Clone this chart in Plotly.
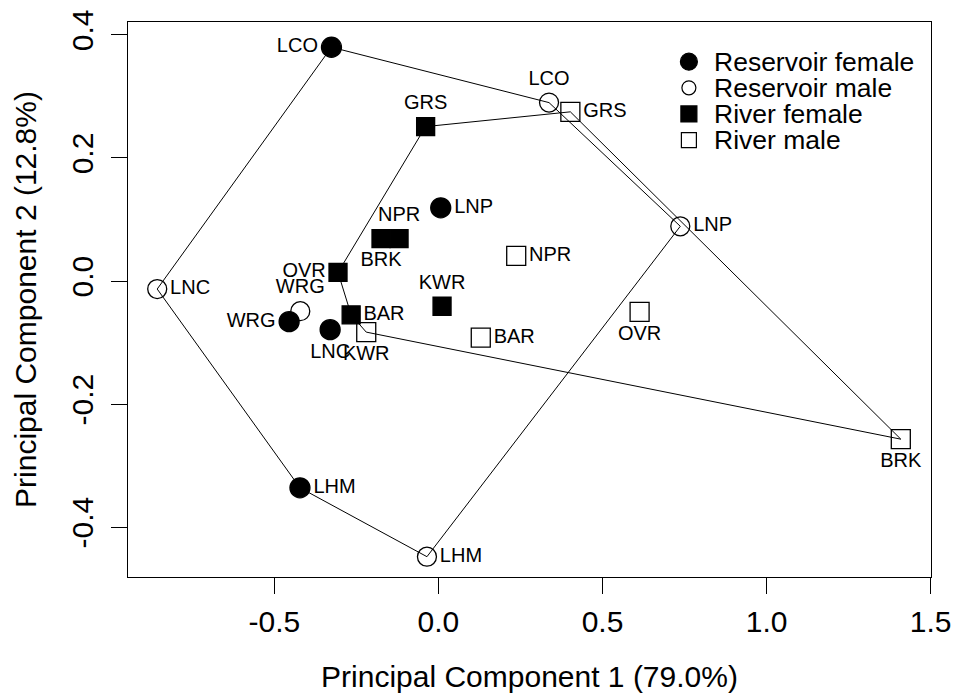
import plotly.graph_objects as go

# ---------------- data ----------------
res_f_labels = ["LCO", "LNP", "WRG", "LNC", "LHM"]
res_f_x = [-0.326, 0.007, -0.455, -0.330, -0.422]
res_f_y = [0.380, 0.119, -0.066, -0.079, -0.336]
res_f_pos = ["middle left", "middle right", "middle left", "bottom center", "middle right"]

res_m_labels = ["LCO", "LNP", "WRG", "LNC", "LHM"]
res_m_x = [0.337, 0.737, -0.421, -0.857, -0.035]
res_m_y = [0.290, 0.089, -0.049, -0.013, -0.448]
res_m_pos = ["top center", "middle right", "top center", "middle right", "middle right"]

riv_f_labels = ["GRS", "NPR", "BRK", "OVR", "BAR", "KWR"]
riv_f_x = [-0.039, -0.120, -0.175, -0.306, -0.266, 0.011]
riv_f_y = [0.251, 0.069, 0.069, 0.014, -0.055, -0.041]
riv_f_pos = ["top center", "top center", "bottom center", "middle left", "middle right", "top center"]

riv_m_labels = ["GRS", "NPR", "BRK", "OVR", "BAR", "KWR"]
riv_m_x = [0.402, 0.237, 1.409, 0.613, 0.129, -0.220]
riv_m_y = [0.275, 0.041, -0.257, -0.050, -0.092, -0.083]
riv_m_pos = ["middle right", "middle right", "bottom center", "bottom center", "middle right", "bottom center"]

x_ticks = [-0.5, 0.0, 0.5, 1.0, 1.5]
x_ticktext = ["-0.5", "0.0", "0.5", "1.0", "1.5"]
y_ticks = [-0.4, -0.2, 0.0, 0.2, 0.4]
y_ticktext = ["-0.4", "-0.2", "0.0", "0.2", "0.4"]

legend_names = ["Reservoir female", "Reservoir male", "River female", "River male"]

FONT = "Liberation Sans, Arial, sans-serif"


def convex_hull(xs, ys):
    pts = sorted(set(zip(xs, ys)))
    if len(pts) < 3:
        return pts

    def cross(o, a, b):
        return (a[0] - o[0]) * (b[1] - o[1]) - (a[1] - o[1]) * (b[0] - o[0])

    lower = []
    for p in pts:
        while len(lower) >= 2 and cross(lower[-2], lower[-1], p) <= 0:
            lower.pop()
        lower.append(p)
    upper = []
    for p in reversed(pts):
        while len(upper) >= 2 and cross(upper[-2], upper[-1], p) <= 0:
            upper.pop()
        upper.append(p)
    hull = lower[:-1] + upper[:-1]
    return hull + [hull[0]]


fig = go.Figure()

# hull polygons (reservoir and river)
for gx, gy in [(res_f_x + res_m_x, res_f_y + res_m_y), (riv_f_x + riv_m_x, riv_f_y + riv_m_y)]:
    h = convex_hull(gx, gy)
    fig.add_trace(go.Scatter(x=[p[0] for p in h], y=[p[1] for p in h], mode="lines",
                             line=dict(color="black", width=1), showlegend=False, hoverinfo="skip"))

groups = [
    (res_f_x, res_f_y, res_f_labels, res_f_pos, "circle", 20),
    (res_m_x, res_m_y, res_m_labels, res_m_pos, "circle-open", 19),
    (riv_f_x, riv_f_y, riv_f_labels, riv_f_pos, "square", 18),
    (riv_m_x, riv_m_y, riv_m_labels, riv_m_pos, "square-open", 19),
]
for (gx, gy, gl, gp, sym, sz), name in zip(groups, legend_names):
    fig.add_trace(go.Scatter(
        x=gx, y=gy, mode="markers+text", name=name, text=gl, textposition=gp,
        textfont=dict(family=FONT, size=20, color="black"),
        marker=dict(symbol=sym, size=sz, color="black", line=dict(color="black", width=1.3)),
        showlegend=False, cliponaxis=False))

# custom legend (R-style compact)
leg_sym_x = 0.6985
leg_txt_x = 0.7268
leg_y0 = 0.9285
leg_step = 0.0471
shapes = []
annotations = []
for i, name in enumerate(legend_names):
    yy = leg_y0 - i * leg_step
    filled = "female" in name
    if "Reservoir" in name:
        r = 8.5 if filled else 7
        shapes.append(dict(type="circle", xref="paper", yref="paper", xsizemode="pixel", ysizemode="pixel",
                           xanchor=leg_sym_x, yanchor=yy, x0=-r, x1=r, y0=-r, y1=r,
                           fillcolor="black" if filled else "white", line=dict(color="black", width=1.2)))
    else:
        r = 8 if filled else 7.5
        shapes.append(dict(type="rect", xref="paper", yref="paper", xsizemode="pixel", ysizemode="pixel",
                           xanchor=leg_sym_x, yanchor=yy, x0=-r, x1=r, y0=-r, y1=r,
                           fillcolor="black" if filled else "white", line=dict(color="black", width=1.2)))
    annotations.append(dict(text=name, xref="paper", yref="paper", x=leg_txt_x, y=yy,
                            xanchor="left", yanchor="middle", showarrow=False,
                            font=dict(family=FONT, size=26.5, color="black")))

fig.update_layout(
    width=955, height=693,
    margin=dict(l=128, r=24, t=22, b=116),
    paper_bgcolor="white", plot_bgcolor="white",
    font=dict(family=FONT, color="black"),
    shapes=shapes, annotations=annotations,
    showlegend=False,
)
fig.update_xaxes(
    range=[-0.946, 1.501], tickvals=x_ticks, ticktext=x_ticktext, automargin=False,
    showgrid=False, zeroline=False, showline=True, linecolor="black", linewidth=1.2, mirror=True,
    ticks="outside", ticklen=16, tickwidth=1.2, tickcolor="black", ticklabelstandoff=2,
    tickfont=dict(family=FONT, size=30, color="black"),
    title=dict(text="Principal Component 1 (79.0%)", font=dict(family=FONT, size=30, color="black"), standoff=30),
)
fig.update_yaxes(
    range=[-0.481, 0.421], tickvals=y_ticks, ticktext=y_ticktext, tickangle=-90, automargin=False,
    showgrid=False, zeroline=False, showline=True, linecolor="black", linewidth=1.2, mirror=True,
    ticks="outside", ticklen=16, tickwidth=1.2, tickcolor="black", ticklabelstandoff=6,
    tickfont=dict(family=FONT, size=30, color="black"),
    title=dict(text="Principal Component 2 (12.8%)", font=dict(family=FONT, size=30, color="black"), standoff=20),
)

fig.write_html("out.html")
